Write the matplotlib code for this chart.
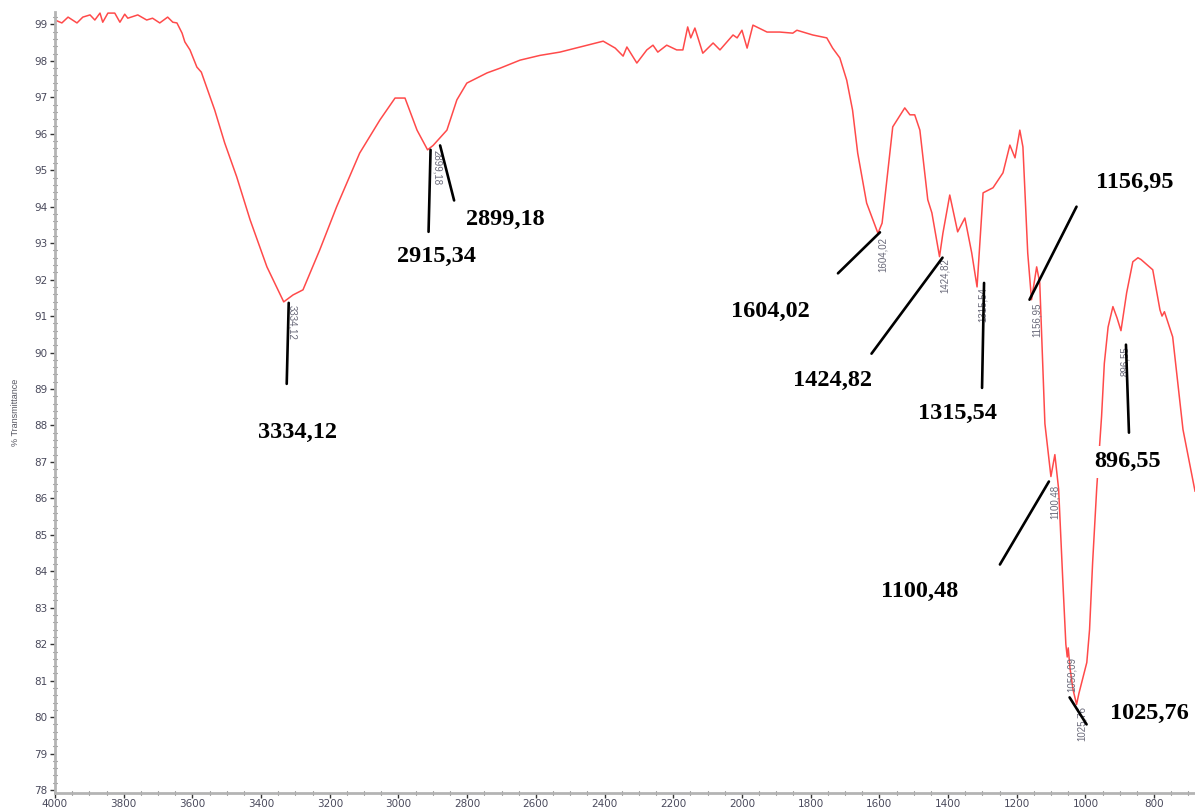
import matplotlib
matplotlib.use('Agg')
import matplotlib.pyplot as plt
from matplotlib.ticker import MultipleLocator
from matplotlib.transforms import offset_copy

# ---------------- data ----------------
wavenumber = [4000, 3980, 3962, 3936, 3919, 3898, 3884, 3869, 3861, 3846, 3826, 3811,
              3797, 3788, 3759, 3733, 3716, 3695, 3672, 3657, 3645, 3630, 3622, 3607,
              3587, 3574, 3535, 3506, 3471, 3432, 3383, 3334.12, 3307, 3278, 3229, 3180,
              3113, 3054, 3010, 2981, 2946, 2915.34, 2899.18, 2859, 2830, 2801, 2742,
              2704, 2646, 2588, 2530, 2471, 2404, 2369, 2346, 2335, 2306, 2277, 2259,
              2245, 2219, 2190, 2172, 2158, 2149, 2137, 2114, 2084, 2064, 2026, 2014,
              2000, 1985, 1968, 1927, 1890, 1852, 1840, 1794, 1753, 1736, 1715, 1695,
              1678, 1663, 1637, 1604.02, 1592, 1578, 1561, 1526, 1511, 1497, 1482, 1459,
              1447, 1424.82, 1415, 1395, 1372, 1351, 1331, 1315.54, 1298, 1269, 1240,
              1220, 1205, 1191, 1182, 1168, 1156.95, 1142, 1133, 1118, 1100.48, 1089,
              1078, 1066, 1057, 1053, 1050.09, 1045, 1036, 1025.76, 1019, 1011, 996,
              988, 979, 967, 953, 945, 934, 920, 908, 896.55, 880, 862, 847, 838, 826,
              804, 783, 777, 770, 746, 716, 681]
transmittance = [99.12, 99.04, 99.20, 99.04, 99.20, 99.26, 99.12, 99.31, 99.06, 99.31, 99.31, 99.06,
                 99.28, 99.17, 99.26, 99.12, 99.17, 99.04, 99.20, 99.06, 99.04, 98.76, 98.52, 98.30,
                 97.83, 97.69, 96.65, 95.75, 94.82, 93.64, 92.35, 91.39, 91.58, 91.72, 92.82, 94.00,
                 95.47, 96.38, 96.98, 96.98, 96.10, 95.56, 95.68, 96.10, 96.93, 97.39, 97.67,
                 97.80, 98.02, 98.15, 98.24, 98.38, 98.54, 98.35, 98.13, 98.38, 97.94, 98.30, 98.43,
                 98.24, 98.43, 98.30, 98.30, 98.93, 98.63, 98.90, 98.21, 98.49, 98.30, 98.71, 98.63,
                 98.84, 98.35, 98.98, 98.79, 98.79, 98.76, 98.84, 98.71, 98.63, 98.35, 98.08, 97.47,
                 96.65, 95.47, 94.10, 93.27, 93.55, 94.73, 96.19, 96.71, 96.52, 96.52, 96.10, 94.19,
                 93.83, 92.63, 93.27, 94.32, 93.31, 93.69, 92.73, 91.80, 94.38, 94.52, 94.93,
                 95.69, 95.34, 96.10, 95.64, 92.73, 91.45, 92.35, 91.91, 88.05, 86.60, 87.20,
                 86.25, 83.77, 82.00, 81.65, 81.90, 81.35, 80.75, 80.35, 80.65, 80.95, 81.50,
                 82.40, 84.25, 86.30, 88.25, 89.70, 90.70, 91.26, 90.95, 90.60, 91.64, 92.49, 92.60, 92.55, 92.45,
                 92.27, 91.17, 91.00, 91.12, 90.43, 87.89, 86.20]

peak_labels = ['3334,12', '2915,34', '2899,18', '1604,02', '1424,82', '1315,54',
               '1156,95', '1100,48', '1025,76', '896,55']
peak_wn = [3334.12, 2915.34, 2899.18, 1604.02, 1424.82, 1315.54, 1156.95, 1100.48, 1025.76, 896.55]
peak_T = [91.39, 95.56, 95.68, 93.27, 92.63, 91.80, 91.45, 86.60, 80.35, 90.60]

small_labels = ['3334,12', '2899,18', '1604,02', '1424,82', '1315,54', '1156,95',
                '1100,48', '1050,09', '1025,76', '896,55']
small_wn = [3334.12, 2899.18, 1604.02, 1424.82, 1315.54, 1156.95, 1100.48, 1050.09, 1025.76, 896.55]
small_T = [91.39, 95.68, 93.27, 92.63, 91.80, 91.45, 86.60, 81.90, 80.35, 90.60]

# ---------------- layout (pixel offsets from each peak) ----------------
line_start = [(5, -1), (3, 0), (7, 0), (2, 1), (3, -1), (7, 4), (-2, 0), (-2, -5), (-7, 7), (5, -14)]
line_end = [(3, -82), (1, -82), (21, -55), (-40, -40), (-68, -97), (5, -101), (45, 93),
            (-51, -88), (10, -20), (8, -102)]
label_pos = [(14, -131), (9, -107), (72, -74), (-108, -78), (-107, -124), (-20, -127),
             (103, 117), (-131, -115), (73, -9), (7, -131)]
small_off = [(8, -3), (4, -5), (5, -4), (5, -1), (6, 0), (5, -3), (4, -8), (4, -9), (5, -2), (4, -16)]
small_rot = [270, 270, 90, 90, 90, 90, 90, 90, 90, 90]

W, H = 1195, 810
fig = plt.figure(figsize=(W / 100, H / 100), dpi=100)
ax = fig.add_axes([55 / W, 17 / H, 1140 / W, 781 / H])

ax.plot(wavenumber, transmittance, color='#ff4a4a', lw=1.1, zorder=2)
ax.set_xlim(4000, 681)
ax.set_ylim(77.92, 99.34)

ax.xaxis.set_major_locator(MultipleLocator(200))
ax.xaxis.set_minor_locator(MultipleLocator(50))
ax.yaxis.set_major_locator(MultipleLocator(1))
ax.yaxis.set_minor_locator(MultipleLocator(0.2))

for s in ['top', 'right']:
    ax.spines[s].set_visible(False)
for s in ['left', 'bottom']:
    ax.spines[s].set_color('#b4b4b4')
    ax.spines[s].set_linewidth(2.0)

tick_font = ['Liberation Sans Narrow', 'DejaVu Sans']
ax.tick_params(which='major', direction='out', length=3.5, width=1.0, color='#333333',
               labelsize=7.5, labelcolor='#4a4a5c', pad=2)
ax.tick_params(which='minor', direction='inout', length=2.5, width=0.8, color='#555555')
for lab in ax.get_xticklabels() + ax.get_yticklabels():
    lab.set_family(tick_font)
ax.tick_params(axis='x', which='major', pad=1)

fig.text(15 / W, 1 - 412 / H, '% Transmittance', rotation=90, fontsize=6.5,
         color='#555560', ha='center', va='center', family=['Liberation Sans', 'DejaVu Sans'])

# small software peak labels
for lab, w, t, (dx, dy), rot in zip(small_labels, small_wn, small_T, small_off, small_rot):
    ax.annotate(lab, xy=(w, t), xytext=(dx, dy), textcoords='offset pixels',
                rotation=rot, ha='center', va='top', fontsize=7, color='#6a6a7a',
                family=['Liberation Sans', 'DejaVu Sans'], zorder=3)

# black annotation lines and bold labels
for lab, w, t, (sx, sy), (ex, ey), (lx, ly) in zip(peak_labels, peak_wn, peak_T,
                                                    line_start, line_end, label_pos):
    trans = offset_copy(ax.transData, fig=fig, x=sx, y=sy, units='dots')
    ax.annotate('', xy=(w, t), xycoords=trans, xytext=(ex - sx, ey - sy),
                textcoords='offset pixels',
                arrowprops=dict(arrowstyle='-', color='black', lw=1.9,
                                shrinkA=0, shrinkB=0), zorder=4)
    ax.annotate(lab, xy=(w, t), xytext=(lx, ly), textcoords='offset pixels',
                ha='center', va='center', fontsize=17.5, fontweight='bold',
                family=['Liberation Serif', 'DejaVu Serif'], color='black', zorder=5,
                bbox=dict(facecolor='white', edgecolor='none', pad=4), annotation_clip=False)

fig.savefig('out.png', dpi=100)
